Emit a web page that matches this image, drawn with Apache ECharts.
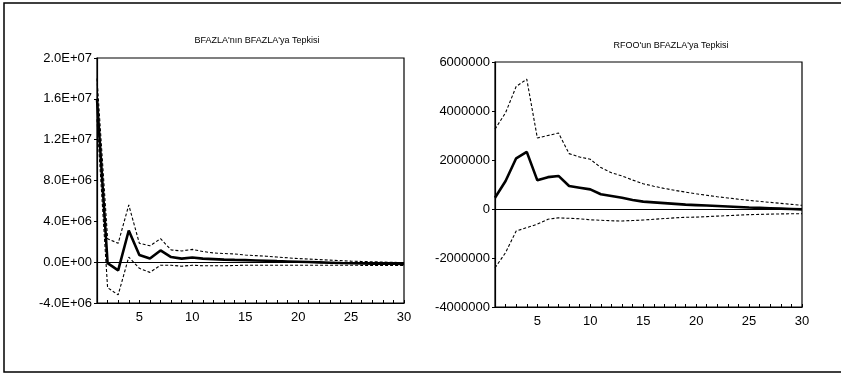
<!DOCTYPE html>
<html>
<head>
<meta charset="utf-8">
<script src="https://cdn.jsdelivr.net/npm/echarts@6/dist/echarts.min.js"></script>
<style>
	html, body { margin: 0; padding: 0; background: #fff; }
	#chart { width: 841px; height: 383px; }
</style>
</head>
<body>
<div id="chart"></div>
<script>
//periods
var periods = [1, 2, 3, 4, 5, 6, 7, 8, 9, 10, 11, 12, 13, 14, 15, 16, 17, 18, 19, 20, 21, 22, 23, 24, 25, 26, 27, 28, 29, 30];

//BFAZLA'nın BFAZLA'ya tepkisi
var bfMid = [16000000, -100000, -800000, 3100000, 700000, 350000, 1150000, 500000, 350000, 450000, 350000, 300000, 250000, 220000, 200000, 170000, 140000, 100000, 70000, 40000, 10000, -20000, -50000, -80000, -100000, -120000, -140000, -150000, -160000, -170000];
var bfUpper = [18000000, 2300000, 1850000, 5600000, 1850000, 1600000, 2300000, 1200000, 1100000, 1250000, 1050000, 900000, 850000, 800000, 700000, 640000, 580000, 500000, 430000, 350000, 300000, 250000, 200000, 150000, 100000, 70000, 40000, 10000, -20000, -50000];
var bfLower = [14000000, -2500000, -3200000, 500000, -600000, -1000000, -300000, -300000, -400000, -300000, -350000, -350000, -350000, -330000, -300000, -300000, -300000, -300000, -300000, -300000, -300000, -300000, -300000, -300000, -300000, -310000, -320000, -320000, -330000, -330000];

//RFOO'un BFAZLA'ya tepkisi
var rfMid = [460000, 1140000, 2070000, 2330000, 1170000, 1300000, 1350000, 940000, 870000, 800000, 600000, 530000, 460000, 370000, 300000, 270000, 240000, 210000, 180000, 160000, 140000, 120000, 100000, 80000, 60000, 45000, 30000, 15000, 0, -15000];
var rfUpper = [3260000, 3930000, 5000000, 5300000, 2900000, 3000000, 3100000, 2260000, 2120000, 2030000, 1690000, 1480000, 1350000, 1180000, 1030000, 930000, 840000, 760000, 690000, 620000, 560000, 500000, 450000, 400000, 350000, 310000, 270000, 230000, 190000, 150000];
var rfLower = [-2400000, -1780000, -900000, -760000, -620000, -420000, -360000, -380000, -400000, -440000, -460000, -480000, -490000, -470000, -450000, -420000, -390000, -360000, -340000, -330000, -310000, -290000, -270000, -250000, -230000, -220000, -210000, -200000, -195000, -190000];

//y轴刻度
var bfTicks = { min: -4000000, max: 20000000, interval: 4000000 };
var rfTicks = { min: -4000000, max: 6000000, interval: 2000000 };

var titles = ["BFAZLA'nın BFAZLA'ya Tepkisi", "RFOO'un BFAZLA'ya Tepkisi"];

var sciLabel = function(v) {
	if(v === 0) return '0.0E+00';
	var s = v.toExponential(1).toUpperCase(); // 2.0E+7
	return s.replace(/E([+-])(\d)$/, 'E$10$2');
};

var lineSeries = function(name, data, idx, solid) {
	var s = {
		name: name,
		type: 'line',
		xAxisIndex: idx,
		yAxisIndex: idx,
		data: data,
		symbol: 'none',
		silent: true,
		lineStyle: {
			color: '#000',
			width: solid ? 2.6 : 1.1,
			type: solid ? 'solid' : [3, 2]
		}
	};
	if(solid) {
		//零线
		s.markLine = {
			silent: true,
			symbol: 'none',
			label: { show: false },
			lineStyle: { color: '#000', width: 1, type: 'solid' },
			data: [{ yAxis: 0 }]
		};
	}
	return s;
};

var xAxisCfg = function(idx) {
	return {
		type: 'category',
		gridIndex: idx,
		data: periods,
		boundaryGap: false,
		axisLine: { onZero: false, lineStyle: { color: '#000', width: 1.2 } },
		axisTick: { inside: true, length: 3, interval: 0, lineStyle: { color: '#000' } },
		axisLabel: {
			color: '#000',
			fontSize: 13,
			fontFamily: 'Liberation Sans, Arial',
			margin: 8,
			interval: function(i, v) { return v % 5 === 0; }
		},
		splitLine: { show: false }
	};
};

var yAxisCfg = function(idx, t, fmt) {
	return {
		type: 'value',
		gridIndex: idx,
		min: t.min,
		max: t.max,
		interval: t.interval,
		axisLine: { show: true, lineStyle: { color: '#000', width: 1.2 } },
		axisTick: { show: true, length: 3, lineStyle: { color: '#000' } },
		axisLabel: {
			color: '#000',
			fontSize: 13,
			fontFamily: 'Liberation Sans, Arial',
			margin: 5,
			formatter: fmt
		},
		splitLine: { show: false }
	};
};

var chart = echarts.init(document.getElementById('chart'));
chart.setOption({
	backgroundColor: '#fff',
	animation: false,
	title: [{
		text: titles[0],
		left: 252,
		top: 31,
		textAlign: 'center',
		textStyle: { fontSize: 9, fontWeight: 'normal', color: '#000', fontFamily: 'Liberation Sans, Arial' }
	}, {
		text: titles[1],
		left: 666,
		top: 36,
		textAlign: 'center',
		textStyle: { fontSize: 9, fontWeight: 'normal', color: '#000', fontFamily: 'Liberation Sans, Arial' }
	}],
	graphic: [{
		type: 'rect',
		silent: true,
		shape: { x: 4, y: 3, width: 845, height: 369 },
		style: { fill: 'none', stroke: '#000', lineWidth: 1.5 }
	}],
	grid: [
		{ left: 97, top: 58, width: 307, height: 245, show: true, borderColor: '#000', borderWidth: 1.2, backgroundColor: 'transparent' },
		{ left: 495, top: 62, width: 307, height: 245, show: true, borderColor: '#000', borderWidth: 1.2, backgroundColor: 'transparent' }
	],
	xAxis: [xAxisCfg(0), xAxisCfg(1)],
	yAxis: [
		yAxisCfg(0, bfTicks, sciLabel),
		yAxisCfg(1, rfTicks, function(v) { return String(v); })
	],
	series: [
		lineSeries('bfUpper', bfUpper, 0, false),
		lineSeries('bfLower', bfLower, 0, false),
		lineSeries('bfMid', bfMid, 0, true),
		lineSeries('rfUpper', rfUpper, 1, false),
		lineSeries('rfLower', rfLower, 1, false),
		lineSeries('rfMid', rfMid, 1, true)
	]
});
</script>
</body>
</html>
